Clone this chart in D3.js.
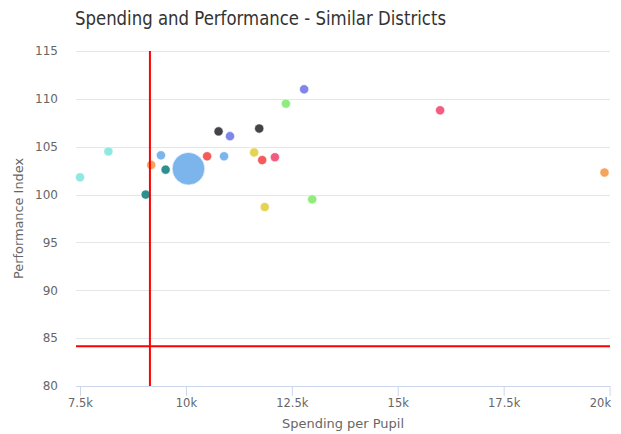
<!DOCTYPE html>
<html>
<head>
<meta charset="utf-8">
<script src="https://cdn.jsdelivr.net/npm/d3@7"></script>
<style>
  html, body { margin: 0; padding: 0; background: #fff; }
  svg { display: block; font-family: "DejaVu Sans", "Lucida Grande", sans-serif; }
</style>
</head>
<body>
<svg id="chart" width="621" height="434"></svg>
<script>
// ---- data ----
const title = "Spending and Performance - Similar Districts";
const xTitle = "Spending per Pupil";
const yTitle = "Performance Index";
const spending    = [7500, 8170, 9050, 9180, 9410, 9520, 10060, 10500, 10770, 10900, 11040, 11610, 11730, 11800, 11860, 12100, 12360, 12790, 12980, 16000, 19880];
const performance = [101.8, 104.5, 100.0, 103.1, 104.1, 102.6, 102.7, 104.0, 106.6, 104.0, 106.1, 104.4, 106.9, 103.6, 98.7, 103.9, 109.5, 111.0, 99.5, 108.8, 102.3];
const sizeClass   = [1, 1, 1, 1, 1, 1, 2, 1, 1, 1, 1, 1, 1, 1, 1, 1, 1, 1, 1, 1, 1];
const pointColors = ["#91e8e1", "#91e8e1", "#2b908f", "#f7a35c", "#7cb5ec", "#2b908f", "#7cb5ec", "#f45b5b", "#434348", "#7cb5ec", "#8085e9", "#e4d354", "#434348", "#f45b5b", "#e4d354", "#f15c80", "#90ed7d", "#8085e9", "#90ed7d", "#f15c80", "#f7a35c"];
const xTicks = [7500, 10000, 12500, 15000, 17500, 20000];
const xTickLabels = ["7.5k", "10k", "12.5k", "15k", "17.5k", "20k"];
const yTicks = [80, 85, 90, 95, 100, 105, 110, 115];
const refSpending = 9150;
const refPerformance = 84.15;

(function () {
// ---- layout ----
const svg = d3.select("#chart");
const plotL = 76, plotR = 610, plotT = 51, plotB = 386;

const x = d3.scaleLinear().domain([7405, 20010]).range([plotL, plotR]);
const y = d3.scaleLinear().domain([80, 115]).range([plotB, plotT]);
const r = d3.scaleOrdinal().domain([1, 2]).range([4.6, 16.3]);

// title
svg.append("text")
  .attr("x", 75).attr("y", 25)
  .attr("fill", "#333333")
  .attr("textLength", 371).attr("lengthAdjust", "spacingAndGlyphs")
  .style("font-size", "19.5px")
  .text(title);

// grid lines
svg.append("g").selectAll("line").data(yTicks.filter(d => d !== 80)).join("line")
  .attr("x1", plotL).attr("x2", plotR)
  .attr("y1", d => Math.round(y(d)) + 0.5).attr("y2", d => Math.round(y(d)) + 0.5)
  .attr("stroke", "#e6e6e6").attr("stroke-width", 1);

// y axis labels
const yAxis = d3.axisLeft(y).tickValues(yTicks).tickSize(0).tickPadding(0);
const gy = svg.append("g").attr("transform", `translate(${plotL - 18},0)`).call(yAxis);
gy.select(".domain").remove();
gy.selectAll("text").attr("fill", "#666666").style("font-size", "12px")
  .style("font-family", "DejaVu Sans, sans-serif");

// x axis
const xAxis = d3.axisBottom(x).tickValues(xTicks).tickFormat((d, i) => xTickLabels[i]).tickSize(10).tickPadding(3).tickSizeOuter(0);
const gx = svg.append("g").attr("transform", `translate(0,${plotB})`).call(xAxis);
gx.select(".domain").attr("stroke", "#ccd6eb").attr("d", `M${plotL},0.5H${plotR}`);
gx.selectAll(".tick line").attr("stroke", "#ccd6eb");
gx.selectAll("text").attr("fill", "#666666").style("font-size", "11.5px")
  .style("font-family", "DejaVu Sans, sans-serif");
// keep the last label inside the chart (right-justified)
gx.selectAll(".tick text").filter(d => d === xTicks[xTicks.length - 1])
  .attr("text-anchor", "end").attr("x", 1);

// axis titles
svg.append("text")
  .attr("x", (plotL + plotR) / 2).attr("y", 428)
  .attr("text-anchor", "middle").attr("fill", "#666666")
  .attr("textLength", 122).attr("lengthAdjust", "spacingAndGlyphs")
  .style("font-size", "12.5px").text(xTitle);
svg.append("text")
  .attr("transform", `translate(23,${(plotT + plotB) / 2}) rotate(-90)`)
  .attr("text-anchor", "middle").attr("fill", "#666666")
  .attr("textLength", 121).attr("lengthAdjust", "spacingAndGlyphs")
  .style("font-size", "12.5px").text(yTitle);

// points
const data = spending.map((s, i) => ({ s, p: performance[i], c: pointColors[i], k: sizeClass[i] }));
svg.append("g").selectAll("circle").data(data).join("circle")
  .attr("cx", d => x(d.s)).attr("cy", d => y(d.p))
  .attr("r", d => r(d.k))
  .attr("fill", d => d.c)
  .attr("stroke", "#ffffff").attr("stroke-width", 0.6);

// reference lines
svg.append("line")
  .attr("x1", x(refSpending)).attr("x2", x(refSpending))
  .attr("y1", plotT).attr("y2", plotB)
  .attr("stroke", "#ff0000").attr("stroke-width", 2);
svg.append("line")
  .attr("x1", plotL).attr("x2", plotR)
  .attr("y1", y(refPerformance)).attr("y2", y(refPerformance))
  .attr("stroke", "#ff0000").attr("stroke-width", 2);
})();
</script>
</body>
</html>
